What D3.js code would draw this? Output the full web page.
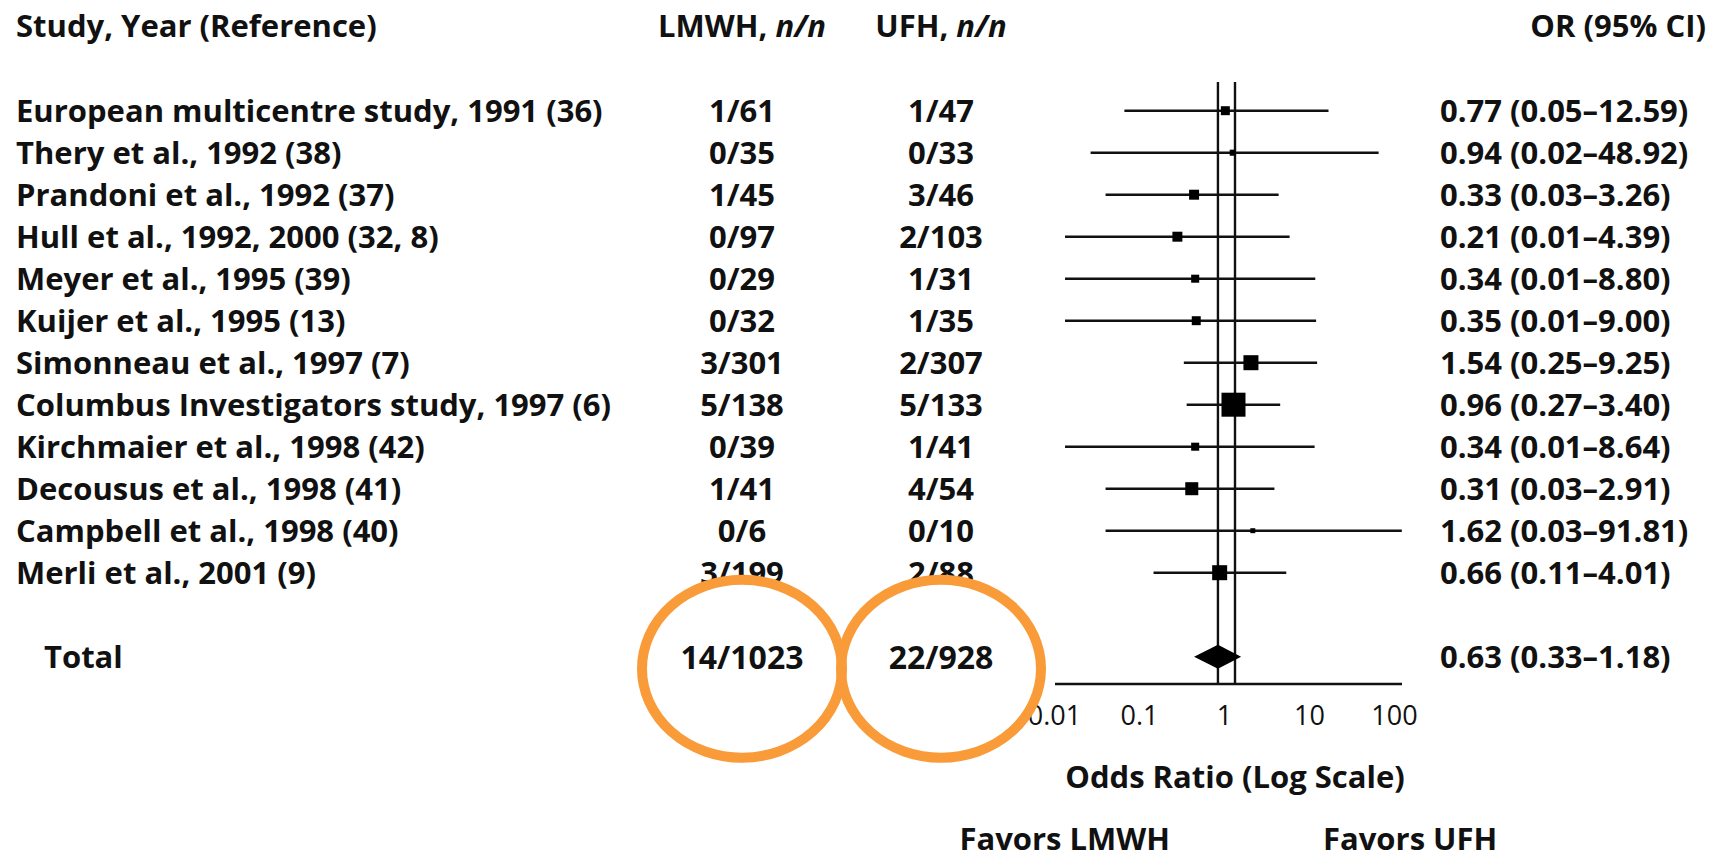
<!DOCTYPE html>
<html>
<head>
<meta charset="utf-8">
<script src="https://cdn.jsdelivr.net/npm/d3@7"></script>
<style>
    html, body { margin: 0; padding: 0; background: #fff; }
    #forest_chart text { fill: #111; }
</style>
</head>
<body>
<div id="forest_chart"></div>
<script>
// Study rows
const studies = [
    "European multicentre study, 1991 (36)",
    "Thery et al., 1992 (38)",
    "Prandoni et al., 1992 (37)",
    "Hull et al., 1992, 2000 (32, 8)",
    "Meyer et al., 1995 (39)",
    "Kuijer et al., 1995 (13)",
    "Simonneau et al., 1997 (7)",
    "Columbus Investigators study, 1997 (6)",
    "Kirchmaier et al., 1998 (42)",
    "Decousus et al., 1998 (41)",
    "Campbell et al., 1998 (40)",
    "Merli et al., 2001 (9)"
];
const lmwh = ["1/61", "0/35", "1/45", "0/97", "0/29", "0/32", "3/301", "5/138", "0/39", "1/41", "0/6", "3/199"];
const ufh = ["1/47", "0/33", "3/46", "2/103", "1/31", "1/35", "2/307", "5/133", "1/41", "4/54", "0/10", "2/88"];
const odds = [0.77, 0.94, 0.33, 0.21, 0.34, 0.35, 1.54, 0.96, 0.34, 0.31, 1.62, 0.66];
const ci_low = [0.05, 0.02, 0.03, 0.01, 0.01, 0.01, 0.25, 0.27, 0.01, 0.03, 0.03, 0.11];
const ci_high = [12.59, 48.92, 3.26, 4.39, 8.80, 9.00, 9.25, 3.40, 8.64, 2.91, 91.81, 4.01];
// Relative weight (%)
const weights = [4.6, 2.1, 5.7, 5.7, 3.7, 4.6, 12.9, 33.0, 3.7, 9.7, 1.4, 12.9];

// Pooled result
const total_label = "Total";
const total_lmwh = "14/1023";
const total_ufh = "22/928";
const total_or = 0.63;
const total_low = 0.33;
const total_high = 1.18;

const axis_ticks = [0.01, 0.1, 1, 10, 100];

function ForestPlot() {
    const width = 1717;
    const height = 859;
    const font = "'Open Sans', 'DejaVu Sans', sans-serif";
    const font_size = 31;
    const col_lmwh = 742;
    const col_ufh = 941;
    const col_or = 1440;
    const axis_y = 684;
    const fmt = d3.format(".2f");

    const x = d3.scaleLog().domain([0.01, 100]).range([1065, 1405]);
    const y = d3.scaleLinear().domain([0, 13]).range([110.7, 656.7]);
    const size = d3.scaleSqrt().domain([0, 33]).range([0, 24]);

    const rows = studies.map((s, i) => ({
        name: s, lmwh: lmwh[i], ufh: ufh[i], or: odds[i],
        lo: ci_low[i], hi: ci_high[i], w: weights[i], row: i
    }));

    const svg = d3.select('#forest_chart')
        .append("svg")
        .attr("width", width).attr("height", height)
        .attr("viewBox", [0, 0, width, height])
        .style("font-family", font)
        .style("font-weight", 700)
        .style("font-size", font_size + "px");

    // Headers
    const head = svg.append("g");
    head.append("text").attr("x", 16).attr("y", 37).text("Study, Year (Reference)");
    const h1 = head.append("text").attr("x", col_lmwh).attr("y", 37).attr("text-anchor", "middle");
    h1.append("tspan").text("LMWH, ");
    h1.append("tspan").attr("font-style", "italic").text("n/n");
    const h2 = head.append("text").attr("x", col_ufh).attr("y", 37).attr("text-anchor", "middle");
    h2.append("tspan").text("UFH, ");
    h2.append("tspan").attr("font-style", "italic").text("n/n");
    head.append("text").attr("x", 1706).attr("y", 37).attr("text-anchor", "end").text("OR (95% CI)");

    // Text columns
    const row = svg.append("g").selectAll("g")
        .data(rows)
        .join("g")
        .attr("transform", d => `translate(0,${y(d.row) + 11})`);
    row.append("text").attr("x", 16).text(d => d.name);
    row.append("text").attr("x", col_lmwh).attr("text-anchor", "middle").text(d => d.lmwh);
    row.append("text").attr("x", col_ufh).attr("text-anchor", "middle").text(d => d.ufh);
    row.append("text").attr("x", col_or).text(d => `${fmt(d.or)} (${fmt(d.lo)}–${fmt(d.hi)})`);

    // Total row
    const ty = y(13) + 11;
    svg.append("text").attr("x", 44).attr("y", ty).text(total_label);
    svg.append("text").attr("x", col_lmwh).attr("y", ty + 1).attr("text-anchor", "middle")
        .style("font-size", (font_size + 1) + "px").text(total_lmwh);
    svg.append("text").attr("x", col_ufh).attr("y", ty + 1).attr("text-anchor", "middle")
        .style("font-size", (font_size + 1) + "px").text(total_ufh);
    svg.append("text").attr("x", col_or).attr("y", ty)
        .text(`${fmt(total_or)} (${fmt(total_low)}–${fmt(total_high)})`);

    // Reference lines (pooled estimate and no effect)
    svg.append("g")
        .attr("stroke", "#111").attr("stroke-width", 2.4)
        .selectAll("line")
        .data([total_or, 1])
        .join("line")
        .attr("x1", d => x(d)).attr("x2", d => x(d))
        .attr("y1", 82).attr("y2", axis_y);

    // Confidence intervals
    svg.append("g")
        .attr("stroke", "#111").attr("stroke-width", 2.4)
        .selectAll("line")
        .data(rows)
        .join("line")
        .attr("x1", d => x(d.lo)).attr("x2", d => x(d.hi))
        .attr("y1", d => y(d.row)).attr("y2", d => y(d.row));

    // Study weight squares
    svg.append("g")
        .attr("fill", "#000")
        .selectAll("rect")
        .data(rows)
        .join("rect")
        .attr("x", d => x(d.or) - size(d.w) / 2)
        .attr("y", d => y(d.row) - size(d.w) / 2)
        .attr("width", d => size(d.w))
        .attr("height", d => size(d.w));

    // Pooled diamond
    const dy = y(13);
    svg.append("path")
        .attr("fill", "#000")
        .attr("d", `M${x(total_low)},${dy} L${x(total_or)},${dy - 12} L${x(total_high)},${dy} L${x(total_or)},${dy + 12} Z`);

    // Axis
    svg.append("line")
        .attr("x1", x(0.01) - 10).attr("x2", x(100) - 3)
        .attr("y1", axis_y).attr("y2", axis_y)
        .attr("stroke", "#111").attr("stroke-width", 2.4);
    const axis = svg.append("g")
        .attr("transform", `translate(0,${axis_y})`)
        .call(d3.axisBottom(x).tickValues(axis_ticks).tickFormat(d3.format("~g")).tickSize(0));
    axis.select(".domain").remove();
    axis.selectAll("text")
        .attr("y", 41).attr("dy", null).attr("dx", -11)
        .style("font-family", font).style("font-weight", 400).style("font-size", "27px")
        .attr("fill", "#111");

    svg.append("text").attr("x", x(1)).attr("y", 788).attr("text-anchor", "middle").text("Odds Ratio (Log Scale)");
    svg.append("text").attr("x", 1170).attr("y", 850).attr("text-anchor", "end").text("Favors LMWH");
    svg.append("text").attr("x", 1323).attr("y", 850).text("Favors UFH");

    // Orange highlight rings round the totals
    svg.append("g")
        .attr("fill", "none").attr("stroke", "#f89b38").attr("stroke-width", 10)
        .selectAll("ellipse")
        .data([col_lmwh, col_ufh])
        .join("ellipse")
        .attr("cx", d => d).attr("cy", y(13) + 12)
        .attr("rx", 100).attr("ry", 89);
}

ForestPlot();
</script>
</body>
</html>
